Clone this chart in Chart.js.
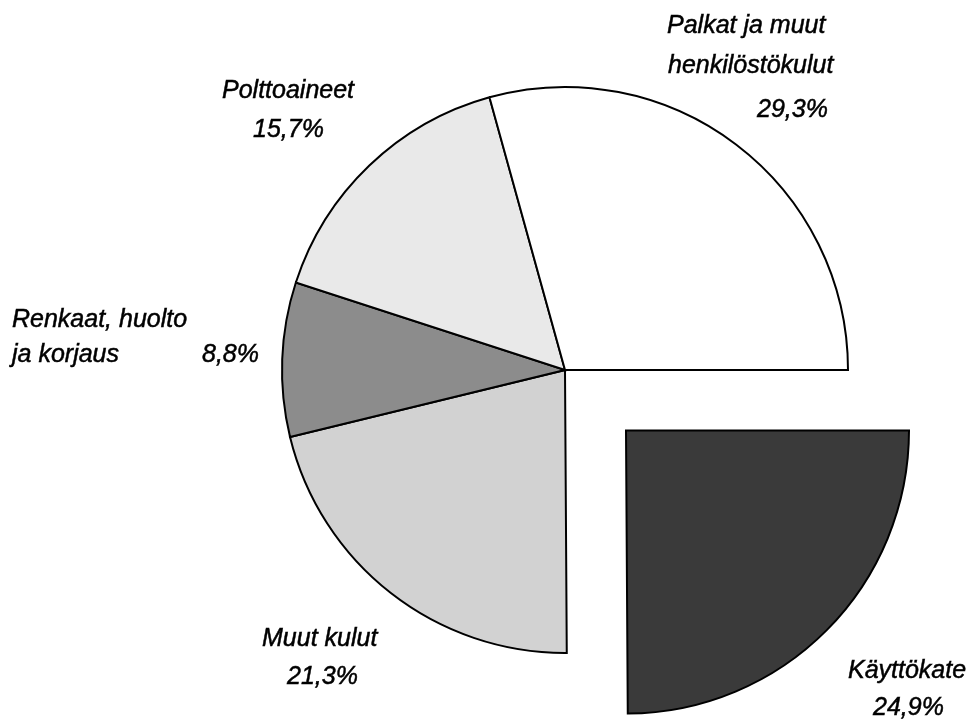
<!DOCTYPE html>
<html>
<head>
<meta charset="utf-8">
<script src="https://cdn.jsdelivr.net/npm/chart.js@4/dist/chart.umd.min.js"></script>
<style>
  html, body { margin: 0; padding: 0; background: #fff; }
  #wrap { width: 972px; height: 720px; }
</style>
</head>
<body>
<div id="wrap"><canvas id="kakku"></canvas></div>
<script>
// osuudet prosentteina, myötäpäivään klo 3:sta alkaen
const nimet = ['Käyttökate', 'Muut kulut', 'Renkaat, huolto ja korjaus', 'Polttoaineet', 'Palkat ja muut henkilöstökulut'];
const osuudet = [24.9, 21.3, 8.8, 15.7, 29.3];
const varit = ['#3a3a3a', '#d2d2d2', '#8c8c8c', '#e9e9e9', '#ffffff'];

// tekstirivit ja niiden paikat (vasen reuna, perusviiva)
const tekstit = [
    [['Käyttökate', 848, 678], ['%', 873, 715]],
    [['Muut kulut', 262, 646], ['%', 287, 684]],
    [['Renkaat, huolto', 12, 327], ['ja korjaus', 12, 362], ['%', 202, 362]],
    [['Polttoaineet', 222, 98], ['%', 253, 137]],
    [['Palkat ja muut', 667, 33], ['henkilöstökulut', 668, 73], ['%', 757, 117]]
];
const irrotus = 86; // Käyttökate-sektorin siirto ulospäin

function pros(v) {
    return v.toFixed(1).replace('.', ',') + '%';
}

// siirretään ensimmäinen sektori irti muista
const irrota = {
    id: 'irrota',
    afterDatasetsUpdate(chart) {
        const arc = chart.getDatasetMeta(0).data[0];
        const kulma = (arc.startAngle + arc.endAngle) / 2;
        arc.x += Math.cos(kulma) * irrotus;
        arc.y += Math.sin(kulma) * irrotus;
    }
};

const nimiteksti = {
    id: 'nimiteksti',
    afterDraw(chart) {
        const ctx = chart.ctx;
        ctx.save();
        ctx.fillStyle = '#000';
        ctx.strokeStyle = '#000';
        ctx.lineWidth = 0.5;
        ctx.font = 'italic 25px "Liberation Sans", Arial, sans-serif';
        ctx.textBaseline = 'alphabetic';
        ctx.textAlign = 'left';
        tekstit.forEach((rivit, i) => {
            rivit.forEach(r => {
                const t = r[0] === '%' ? pros(osuudet[i]) : r[0];
                ctx.fillText(t, r[1], r[2]);
                ctx.strokeText(t, r[1], r[2]);
            });
        });
        ctx.restore();
    }
};

new Chart(document.getElementById('kakku'), {
    type: 'pie',
    data: {
        labels: nimet,
        datasets: [{
            data: osuudet,
            backgroundColor: varit,
            borderColor: '#000',
            borderWidth: 2,
            borderJoinStyle: 'miter'
        }]
    },
    options: {
        responsive: true,
        maintainAspectRatio: false,
        animation: false,
        rotation: 90,
        layout: { padding: { top: 86, bottom: 66, left: 281, right: 123 } },
        plugins: {
            legend: { display: false },
            tooltip: { enabled: false }
        }
    },
    plugins: [irrota, nimiteksti]
});
</script>
</body>
</html>
